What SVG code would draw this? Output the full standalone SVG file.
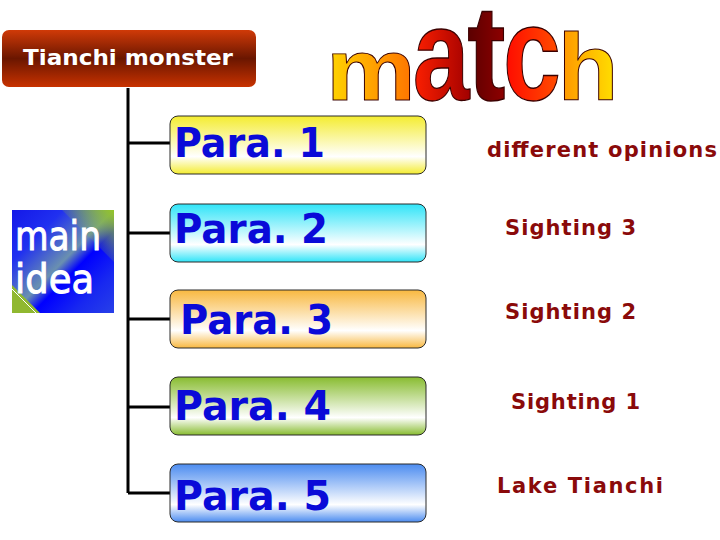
<svg xmlns="http://www.w3.org/2000/svg" width="720" height="540" viewBox="0 0 720 540">
<defs>
<linearGradient id="gTitle" x1="0" y1="0" x2="0" y2="1">
<stop offset="0" stop-color="#d03a08"/><stop offset="0.5" stop-color="#6a1600"/><stop offset="1" stop-color="#c83200"/>
</linearGradient>
<linearGradient id="gP1" x1="0" y1="0" x2="0" y2="1"><stop offset="0" stop-color="#f4ec30"/><stop offset="0.7" stop-color="#ffffff"/><stop offset="1" stop-color="#f4ec30"/></linearGradient>
<linearGradient id="gP2" x1="0" y1="0" x2="0" y2="1"><stop offset="0" stop-color="#30e4f8"/><stop offset="0.7" stop-color="#ffffff"/><stop offset="1" stop-color="#30e4f8"/></linearGradient>
<linearGradient id="gP3" x1="0" y1="0" x2="0" y2="1"><stop offset="0" stop-color="#f8b840"/><stop offset="0.7" stop-color="#ffffff"/><stop offset="1" stop-color="#f8b840"/></linearGradient>
<linearGradient id="gP4" x1="0" y1="0" x2="0" y2="1"><stop offset="0" stop-color="#88bc30"/><stop offset="0.7" stop-color="#ffffff"/><stop offset="1" stop-color="#88bc30"/></linearGradient>
<linearGradient id="gP5" x1="0" y1="0" x2="0" y2="1"><stop offset="0" stop-color="#4c8cf0"/><stop offset="0.7" stop-color="#ffffff"/><stop offset="1" stop-color="#4c8cf0"/></linearGradient>
<linearGradient id="gMain" x1="0" y1="0" x2="1" y2="1">
<stop offset="0" stop-color="#1418e8"/><stop offset="0.25" stop-color="#2030f0"/><stop offset="0.5" stop-color="#6a90b0"/><stop offset="0.6" stop-color="#0000ff"/><stop offset="0.8" stop-color="#1828f0"/><stop offset="1" stop-color="#2840e8"/>
</linearGradient>
<linearGradient id="gCorner" x1="1" y1="0" x2="0.4" y2="0.6">
<stop offset="0" stop-color="#94c428"/><stop offset="1" stop-color="#94c428" stop-opacity="0"/>
</linearGradient>
<linearGradient id="gM" x1="0" y1="0" x2="1" y2="0"><stop offset="0" stop-color="#ffd800"/><stop offset="1" stop-color="#ff7000"/></linearGradient>
<linearGradient id="gA" x1="0" y1="0" x2="1" y2="0"><stop offset="0" stop-color="#ff2000"/><stop offset="1" stop-color="#a00000"/></linearGradient>
<linearGradient id="gT" x1="0" y1="0" x2="1" y2="0"><stop offset="0" stop-color="#5a0000"/><stop offset="1" stop-color="#900000"/></linearGradient>
<linearGradient id="gC" x1="0" y1="0" x2="1" y2="0"><stop offset="0" stop-color="#ff0800"/><stop offset="1" stop-color="#ff5000"/></linearGradient>
<linearGradient id="gH" x1="0" y1="0" x2="1" y2="0"><stop offset="0" stop-color="#ff9000"/><stop offset="1" stop-color="#ffe400"/></linearGradient>
</defs>
<style>
.para rect{stroke:#2a2a2a;stroke-width:1}
.para text{font-family:"DejaVu Sans",sans-serif;font-weight:bold;font-size:40px;fill:#0a0ad8}
.lbl{font-family:"DejaVu Sans",sans-serif;font-weight:bold;font-size:21px;fill:#8a0a0a}
.wa{font-family:"Liberation Sans",Arial,sans-serif;font-weight:bold;font-size:100px;stroke:#3a0000;stroke-width:1;text-anchor:middle}
.conn{stroke:#000;stroke-width:3;fill:none}
</style>

<g id="title">
<rect x="2" y="30" width="254" height="57" rx="7" fill="url(#gTitle)"/>
<text x="128" y="65" text-anchor="middle" font-family="DejaVu Sans, sans-serif" font-weight="bold" font-size="21" fill="#ffffff" textLength="210" lengthAdjust="spacingAndGlyphs">Tianchi monster</text>
</g>

<g id="match">
<text class="wa" fill="url(#gM)" transform="translate(371 100) scale(1.01 0.87)">m</text>
<text class="wa" fill="url(#gA)" transform="translate(441 100) scale(1.02 1.31)">a</text>
<text class="wa" fill="url(#gT)" transform="translate(486.5 100) scale(1.15 1.35)">t</text>
<text class="wa" fill="url(#gC)" transform="translate(532 100) scale(1.04 1.35)">c</text>
<text class="wa" fill="url(#gH)" transform="translate(588 100) scale(1.0 0.94)">h</text>
</g>

<g id="main-idea">
<rect x="12" y="210" width="102" height="103" fill="url(#gMain)"/>
<polygon points="62,210 114,210 114,262" fill="url(#gCorner)"/>
<polygon points="12,285 12,313 40,313" fill="#90b830"/>
<line x1="12" y1="289" x2="36" y2="313" stroke="#ffffff" stroke-width="1"/>
<text x="15" y="250" font-family="DejaVu Sans, sans-serif" font-size="40" fill="#ffffff" stroke="#ffffff" stroke-width="1" textLength="86" lengthAdjust="spacingAndGlyphs">main</text>
<text x="15" y="293" font-family="DejaVu Sans, sans-serif" font-size="40" fill="#ffffff" stroke="#ffffff" stroke-width="1" textLength="79" lengthAdjust="spacingAndGlyphs">idea</text>
</g>

<g id="connectors">
<path class="conn" d="M128 88 V493 M128 143 H170 M128 233 H170 M128 319 H170 M128 407 H170 M128 493 H170"/>
</g>

<g id="para1" class="para">
<rect x="170" y="116" width="256" height="58" rx="8" fill="url(#gP1)"/>
<text x="174" y="157" textLength="151" lengthAdjust="spacingAndGlyphs">Para. 1</text>
</g>
<g id="para2" class="para">
<rect x="170" y="204" width="256" height="58" rx="8" fill="url(#gP2)"/>
<text x="174" y="243" textLength="154" lengthAdjust="spacingAndGlyphs">Para. 2</text>
</g>
<g id="para3" class="para">
<rect x="170" y="290" width="256" height="58" rx="8" fill="url(#gP3)"/>
<text x="180" y="334" textLength="153" lengthAdjust="spacingAndGlyphs">Para. 3</text>
</g>
<g id="para4" class="para">
<rect x="170" y="377" width="256" height="58" rx="8" fill="url(#gP4)"/>
<text x="174" y="420" textLength="157" lengthAdjust="spacingAndGlyphs">Para. 4</text>
</g>
<g id="para5" class="para">
<rect x="170" y="464" width="256" height="58" rx="8" fill="url(#gP5)"/>
<text x="174" y="510" textLength="157" lengthAdjust="spacingAndGlyphs">Para. 5</text>
</g>

<g id="labels">
<text class="lbl" x="487" y="157" textLength="230">different opinions</text>
<text class="lbl" x="505" y="235" textLength="131">Sighting 3</text>
<text class="lbl" x="505" y="319" textLength="131">Sighting 2</text>
<text class="lbl" x="511" y="409" textLength="129">Sighting 1</text>
<text class="lbl" x="497" y="493" textLength="166">Lake Tianchi</text>
</g>
</svg>
